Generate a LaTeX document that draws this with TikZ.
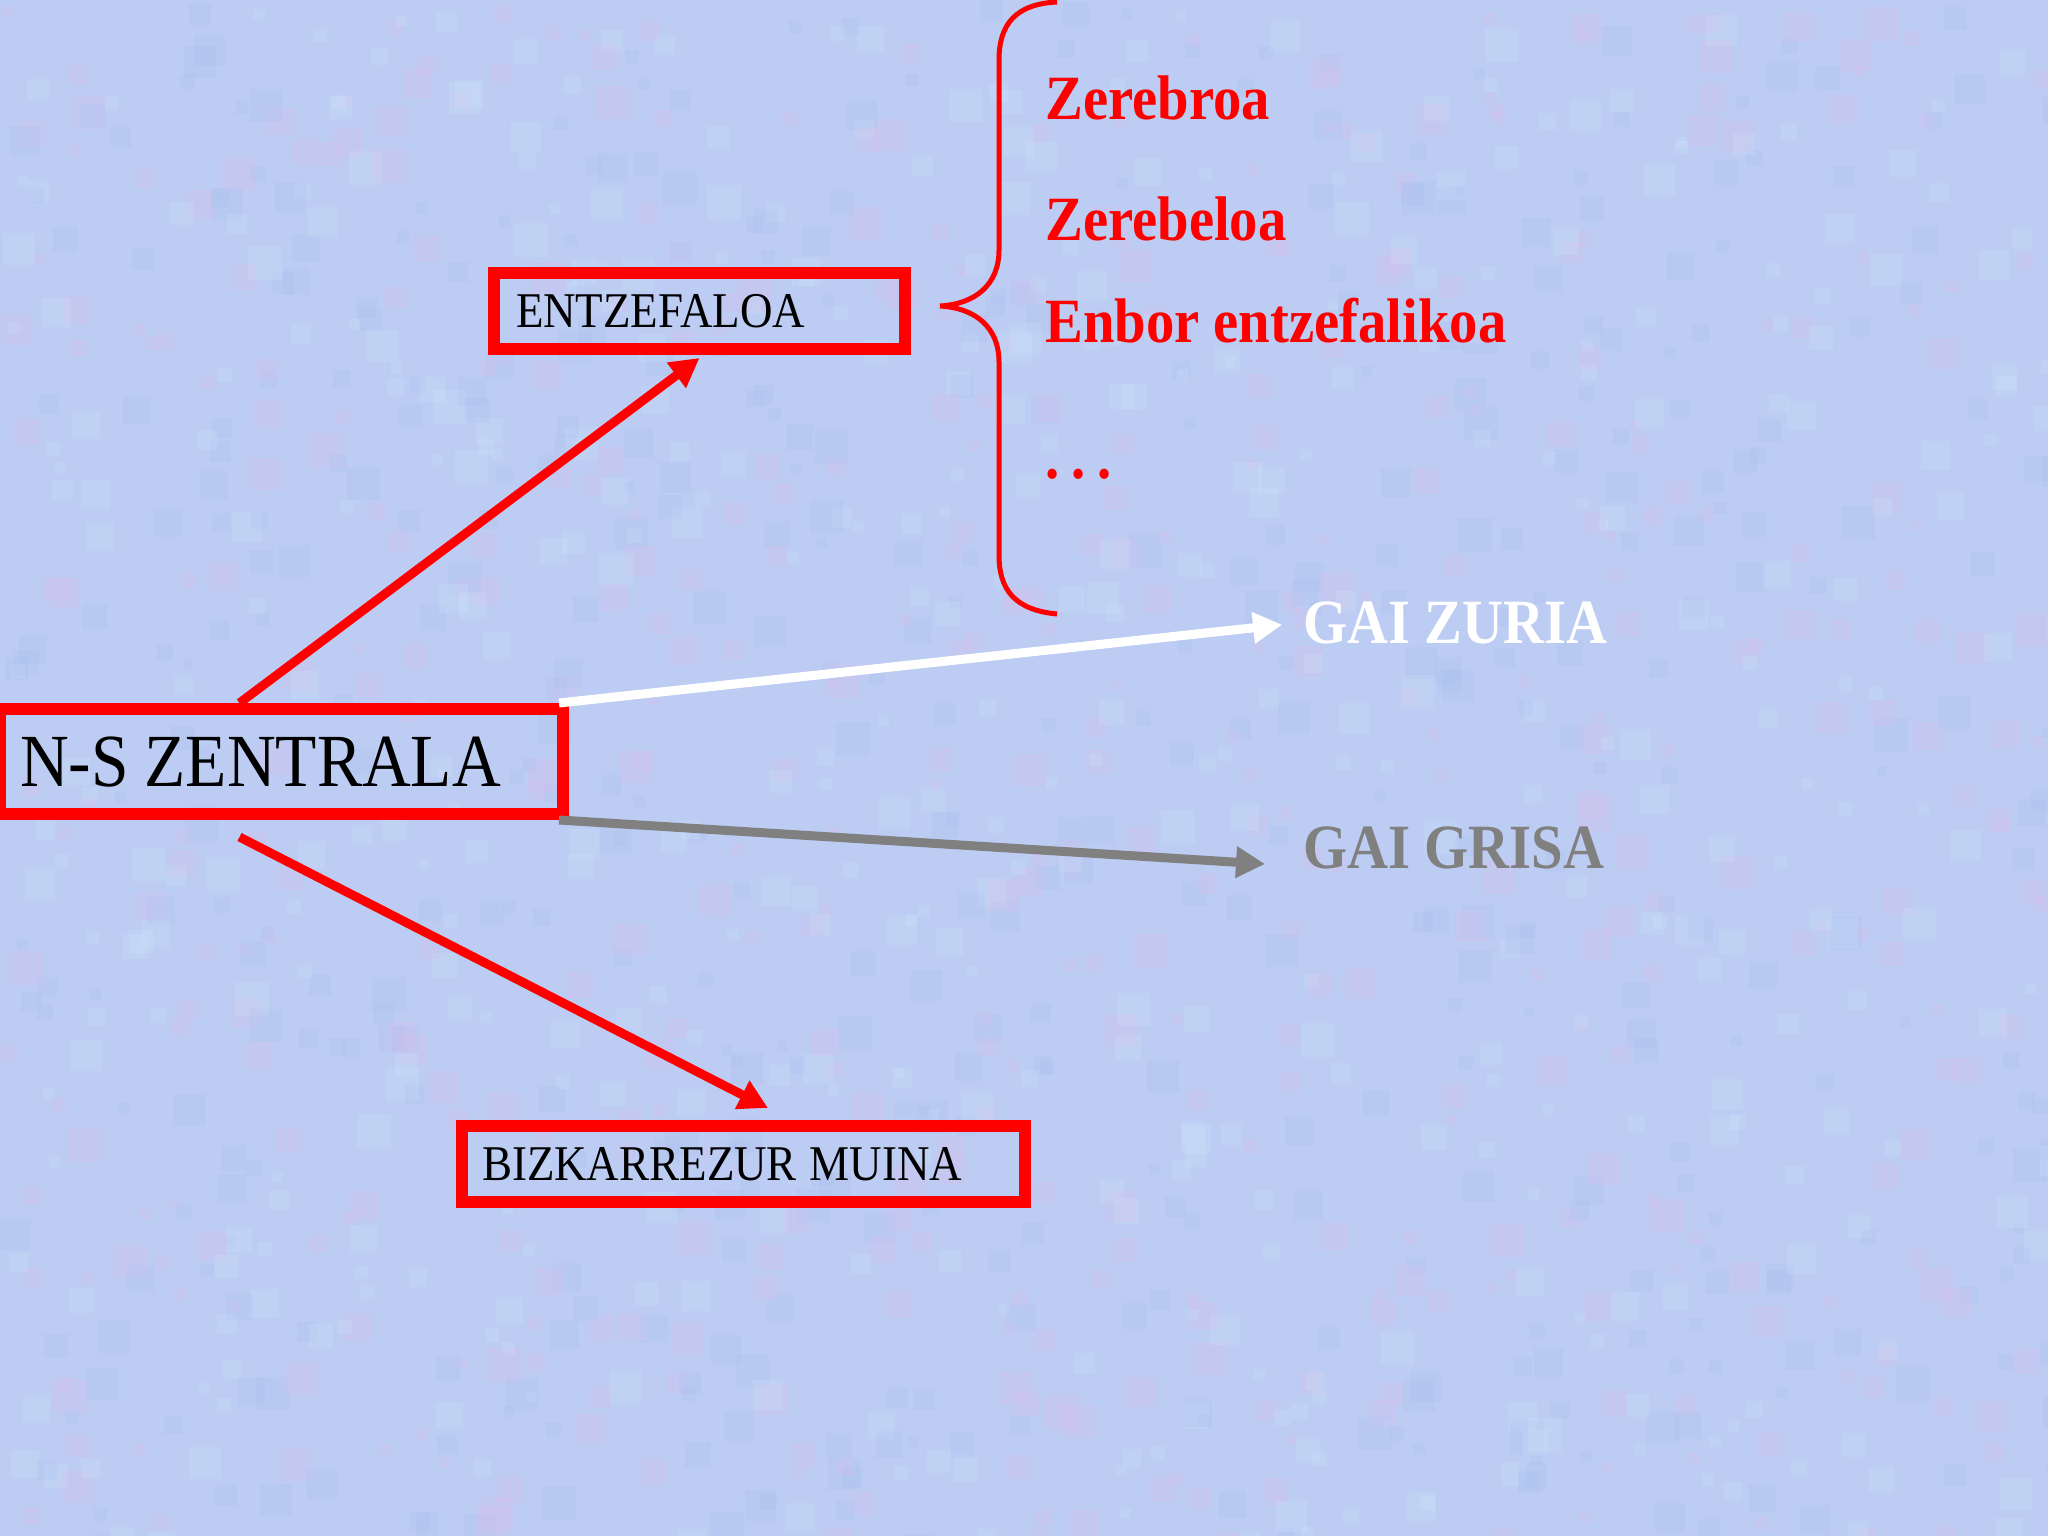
\documentclass[tikz,border=0pt]{standalone}
\usepackage{fontspec}
\setmainfont{Liberation Serif}[FakeStretch=0.9]
\usetikzlibrary{arrows.meta}
\definecolor{bgblue}{RGB}{188,204,242}
\definecolor{bgpink}{RGB}{222,190,236}
\definecolor{bglight}{RGB}{205,228,250}
\definecolor{bgdeep}{RGB}{165,190,240}
\definecolor{pptred}{RGB}{255,0,0}
\definecolor{pptgray}{RGB}{128,128,128}
\begin{document}
\begin{tikzpicture}[x=1pt,y=-1pt,
  box/.style={draw=pptred, line width=12pt, rectangle, inner ysep=0pt, align=left, text depth=0pt, anchor=center},
  lbl/.style={inner sep=0pt, anchor=base west, font=\bfseries\fontsize{63}{70}\selectfont},
  conn/.style={line width=9pt, -{Triangle[length=29pt,width=30pt]}},
]
\useasboundingbox (0,0) rectangle (2048,1536);
\begin{scope}
\clip (0,0) rectangle (2048,1536);
\fill[bgblue] (0,0) rectangle (2048,1536);
\pgfmathsetseed{11}
\foreach \i in {1,...,1400}{
  \pgfmathsetmacro{\px}{random(0,2048)}
  \pgfmathsetmacro{\py}{random(0,1536)}
  \pgfmathsetmacro{\sz}{random(10,34)}
  \pgfmathtruncatemacro{\cc}{random(1,3)}
  \ifcase\cc\or
    \fill[bgpink, opacity=0.25] (\px,\py) rectangle ++(\sz,\sz);
  \or
    \fill[bglight, opacity=0.25] (\px,\py) rectangle ++(\sz,\sz);
  \or
    \fill[bgdeep, opacity=0.2] (\px,\py) rectangle ++(\sz,\sz);
  \fi
}
\end{scope}

\node[box, minimum width=411pt, minimum height=76pt, text width=367pt, inner xsep=22pt, font=\fontsize{50}{60}\selectfont] (ent) at (699.5,311) {ENTZEFALOA};
\node[box, minimum width=563pt, minimum height=105pt, text width=523pt, inner xsep=20pt, font=\fontsize{75}{80}\selectfont] (ns) at (281.5,761.5) {N-S\hspace{16pt}ZENTRALA};
\node[box, minimum width=563pt, minimum height=76pt, text width=522pt, inner xsep=20.5pt, font=\fontsize{50}{60}\selectfont] (biz) at (743,1164) {BIZKARREZUR\hspace{13pt}MUINA};

\node[lbl, text=pptred] (zb) at (1045,120) {Zerebroa};
\node[lbl, text=pptred] (zl) at (1045,240) {Zerebeloa};
\node[lbl, text=pptred] (en) at (1045,342) {Enbor entzefalikoa};
\node[lbl, text=pptred] (dots) at (1045,478) {.\hspace{12pt}.\hspace{12pt}.};
\node[lbl, text=white] (zuria) at (1303,643) {GAI ZURIA};
\node[lbl, text=pptgray] (grisa) at (1303,868) {GAI GRISA};

\draw[pptred, line width=5pt] (1057,2) .. controls (1015,4) and (999,25) .. (999,60) -- (999,250) .. controls (999,285) and (975,304) .. (940,306) .. controls (975,308) and (999,327) .. (999,362) -- (999,555) .. controls (999,590) and (1015,610) .. (1057,614);

\draw[conn, pptred] ([xshift=-42pt]ns.north) -- ([yshift=-3pt]ent.south);
\draw[conn, white, shorten >=21pt] ([xshift=-10pt]ns.north east) -- (zuria.west);
\draw[conn, pptgray] ([xshift=-10pt]ns.south east) -- ([xshift=-38pt,yshift=4pt]grisa.base west);
\draw[conn, pptred] ([xshift=-42pt,yshift=-17pt]ns.south) -- ([xshift=25pt,yshift=12pt]biz.north);
\end{tikzpicture}
\end{document}
